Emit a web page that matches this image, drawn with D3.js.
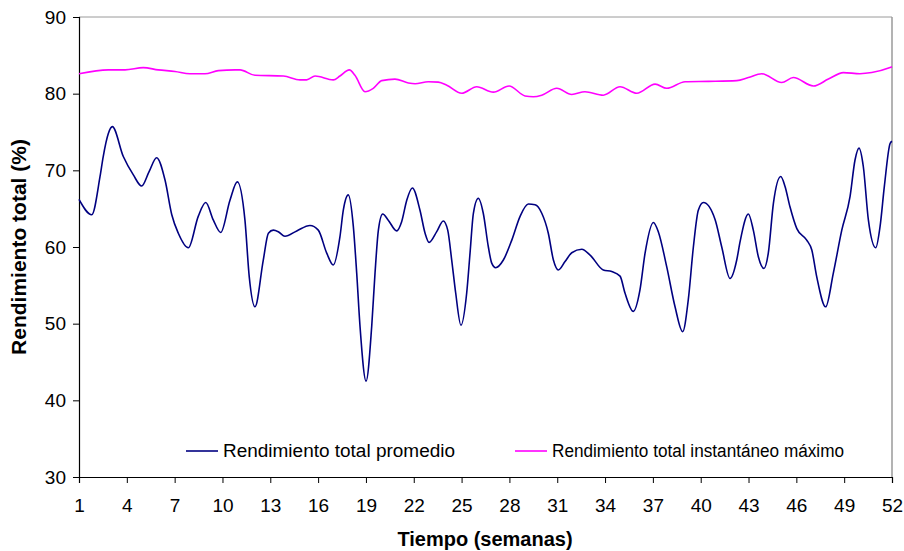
<!DOCTYPE html>
<html>
<head>
<meta charset="utf-8">
<script src="https://cdn.jsdelivr.net/npm/d3@7"></script>
<style>
  html, body { margin: 0; padding: 0; background: #fff; }
  svg { display: block; font-family: "Liberation Sans", Arial, sans-serif; }
</style>
</head>
<body>
<svg id="chart" width="904" height="551"></svg>
<script>
// ---- data ----
const weeksPromedio = [1.00,1.80,2.32,2.52,2.84,3.09,3.78,4.41,4.93,5.39,5.87,6.40,6.82,7.23,7.86,8.48,8.95,9.43,9.89,10.47,10.93,11.41,11.68,12.04,12.56,12.88,13.19,13.50,13.92,14.66,15.49,16.01,16.54,16.95,17.37,17.58,17.89,18.21,18.42,18.63,19.01,19.36,19.57,19.78,20.05,20.40,20.93,21.24,21.56,21.91,22.39,22.71,22.96,23.44,23.85,24.13,24.38,24.63,24.96,25.32,25.53,25.74,26.05,26.36,26.68,26.89,27.14,27.62,28.15,28.67,29.19,29.61,30.03,30.44,30.76,31.07,31.49,31.91,32.54,33.06,33.89,34.42,34.94,35.25,35.77,36.19,36.51,37.03,37.34,37.87,38.39,38.87,39.22,39.54,39.85,40.17,40.90,41.32,41.84,42.26,42.47,42.99,43.30,43.62,43.97,44.24,44.56,45.02,45.29,45.60,46.03,46.65,46.97,47.28,47.84,48.32,48.85,49.37,49.68,49.93,50.20,50.52,50.98,51.25,51.52,51.88,52.00];
const valoresPromedio = [66.2,64.2,69.2,71.8,74.8,75.7,71.8,69.4,67.95,69.8,71.65,68.7,64.2,61.8,59.9,64.0,65.8,63.5,61.9,66.1,68.5,63.5,56.1,52.2,58.3,61.8,62.2,62.0,61.4,62.1,62.8,62.2,59.2,57.65,61.35,64.8,66.8,62.65,56.6,49.6,42.5,49.6,56.6,62.2,64.3,63.5,62.1,63.3,66.1,67.7,64.8,61.8,60.6,62.0,63.4,62.2,58.3,54.0,49.8,54.0,59.2,64.4,66.35,64.4,60.0,57.9,57.3,58.3,60.9,64.0,65.6,65.5,64.4,61.8,58.3,57.0,58.1,59.25,59.7,58.95,57.0,56.8,56.2,54.0,51.6,54.4,59.2,63.2,62.0,57.4,52.2,48.95,53.1,60.0,64.8,65.8,63.6,60.0,55.9,58.3,60.7,64.3,62.2,58.7,57.2,59.2,65.7,69.2,67.9,65.25,62.4,60.9,59.6,56.1,52.2,56.6,62.2,66.6,71.35,72.9,70.5,63.5,59.9,62.65,67.9,73.5,73.8];

const weeksMaximo = [1.00,2.84,3.89,5.03,5.97,7.02,7.96,8.90,9.74,10.79,11.10,12.04,13.82,14.86,15.28,15.81,16.95,17.37,17.96,18.31,18.94,19.46,19.99,20.82,21.66,22.08,22.91,23.54,24.07,25.01,25.95,26.99,27.98,28.98,29.50,30.03,30.97,31.91,32.74,33.89,34.94,35.99,37.14,37.87,39.02,40.50,42.26,42.99,43.83,45.08,45.81,47.07,48.01,48.95,49.99,50.73,51.88,52.00];
const valoresMaximo = [82.6,83.1,83.1,83.4,83.1,82.9,82.6,82.6,83.0,83.1,83.1,82.4,82.3,81.8,81.8,82.3,81.8,82.3,83.1,82.4,80.25,80.7,81.7,81.9,81.4,81.3,81.55,81.5,81.1,80.05,80.9,80.2,81.0,79.7,79.6,79.8,80.7,79.9,80.25,79.8,80.9,80.05,81.25,80.7,81.55,81.6,81.7,82.1,82.6,81.45,82.1,81.0,81.9,82.75,82.6,82.75,83.4,83.5];

const xTickLabels = [1,4,7,10,13,16,19,22,25,28,31,34,37,40,43,46,49,52];
const yTickLabels = [30,40,50,60,70,80,90];

const seriesNames = ["Rendimiento total promedio", "Rendimiento total instantáneo máximo"];
const seriesColors = ["#000080", "#ff00ff"];

// ---- layout ----
const svg = d3.select("#chart");
const plotL = 79, plotR = 892, plotT = 17, plotB = 477;

const x = d3.scaleLinear().domain([1, 52]).range([plotL, plotR]);
const y = d3.scaleLinear().domain([30, 90]).range([plotB, plotT]);

// plot area border (top & right)
svg.append("line").attr("x1", plotL).attr("x2", plotR).attr("y1", plotT).attr("y2", plotT)
  .attr("stroke", "#9a9a9a").attr("stroke-width", 1);
svg.append("line").attr("x1", plotR).attr("x2", plotR).attr("y1", plotT).attr("y2", plotB)
  .attr("stroke", "#9a9a9a").attr("stroke-width", 1.5);

// axes
const yAxis = d3.axisLeft(y).tickValues(yTickLabels).tickSize(6).tickPadding(7).tickFormat(d3.format("d"));
const gy = svg.append("g").attr("transform", `translate(${plotL},0)`).call(yAxis);
const xAxis = d3.axisBottom(x).tickValues(xTickLabels).tickSize(6).tickPadding(16).tickFormat(d3.format("d"));
const gx = svg.append("g").attr("transform", `translate(0,${plotB})`).call(xAxis);

[gy, gx].forEach(g => {
  g.select(".domain").attr("stroke", "#000").attr("stroke-width", 1.2);
  g.selectAll(".tick line").attr("stroke", "#000").attr("stroke-width", 1);
  g.selectAll(".tick text").attr("fill", "#000").style("font-size", "19px")
    .style("font-family", "'Liberation Sans', Arial, sans-serif");
});

// axis titles
svg.append("text")
  .attr("transform", `translate(26,${(plotT + plotB) / 2}) rotate(-90)`)
  .attr("text-anchor", "middle")
  .style("font-size", "21px").style("font-weight", "bold")
  .text("Rendimiento total (%)");
svg.append("text")
  .attr("x", 485).attr("y", 546)
  .attr("text-anchor", "middle")
  .style("font-size", "20px").style("font-weight", "bold")
  .text("Tiempo (semanas)");

// lines
const line = d3.line().curve(d3.curveMonotoneX).x(d => x(d[0])).y(d => y(d[1]));
const dataMax = weeksMaximo.map((w, i) => [w, valoresMaximo[i]]);
const dataProm = weeksPromedio.map((w, i) => [w, valoresPromedio[i]]);

svg.append("path").datum(dataMax).attr("d", line)
  .attr("fill", "none").attr("stroke", seriesColors[1]).attr("stroke-width", 1.6);
svg.append("path").datum(dataProm).attr("d", line)
  .attr("fill", "none").attr("stroke", seriesColors[0]).attr("stroke-width", 1.6);

// legend
const legendItems = [
  { name: seriesNames[0], color: seriesColors[0], x0: 186, len: 232 },
  { name: seriesNames[1], color: seriesColors[1], x0: 515, len: 292 }
];
const lg = svg.append("g");
legendItems.forEach(it => {
  lg.append("line").attr("x1", it.x0).attr("x2", it.x0 + 32).attr("y1", 451).attr("y2", 451)
    .attr("stroke", it.color).attr("stroke-width", 1.6);
  lg.append("text").attr("x", it.x0 + 37).attr("y", 457)
    .attr("textLength", it.len).attr("lengthAdjust", "spacingAndGlyphs")
    .style("font-size", "18px").text(it.name);
});
</script>
</body>
</html>
